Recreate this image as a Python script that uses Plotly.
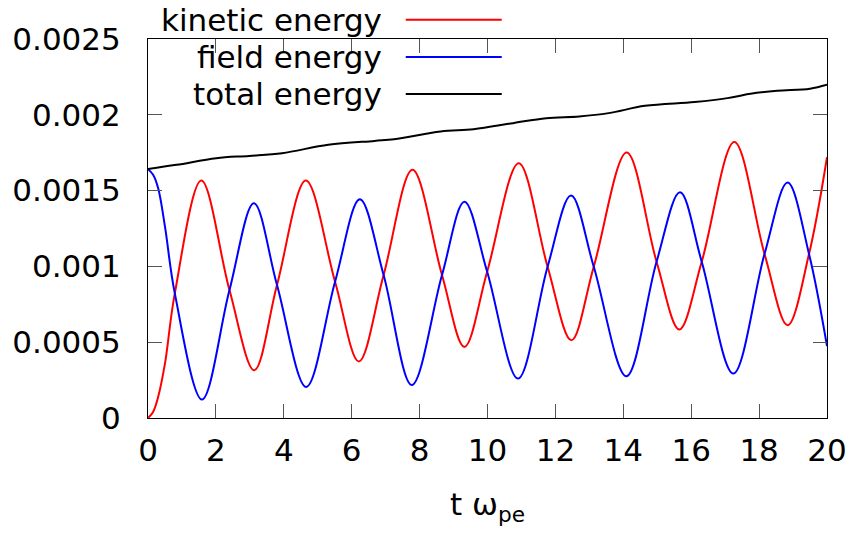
import plotly.graph_objects as go

# ---- data ----
t_kin = [0, 0.15, 0.3, 0.5, 0.79, 1.57, 2.40, 3.13, 3.80, 4.65, 5.51, 6.21, 6.94, 7.79, 8.66, 9.32,
         9.99, 10.92, 11.77, 12.47, 13.13, 14.10, 14.98, 15.65, 16.31, 17.27, 18.16, 18.84,
         19.47, 20.0]
kinetic = [0, 0.00004, 0.00014, 0.00036, 0.000822, 0.001566, 0.000844, 0.000315, 0.000877, 0.001566,
           0.000899, 0.000373, 0.000943, 0.001637, 0.000943, 0.000469, 0.000965, 0.001681,
           0.000998, 0.000513, 0.000998, 0.001751, 0.001031, 0.000584, 0.001031, 0.001821,
           0.001082, 0.000612, 0.001082, 0.00172]

t_fld = [0, 0.15, 0.3, 0.5, 0.79, 1.59, 2.40, 3.12, 3.80, 4.66, 5.51, 6.24, 6.94, 7.77, 8.66, 9.32,
         9.99, 10.90, 11.77, 12.46, 13.13, 14.09, 14.98, 15.67, 16.31, 17.24, 18.16, 18.84,
         19.47, 20.0]
field = [0.001641, 0.001605, 0.001515, 0.001262, 0.000822, 0.000122, 0.000844, 0.001416, 0.000877,
         0.000205, 0.000899, 0.001443, 0.000943, 0.000218, 0.000943, 0.001427, 0.000965,
         0.00026, 0.000998, 0.001467, 0.000998, 0.000275, 0.001031, 0.001489, 0.001031,
         0.000293, 0.001082, 0.001553, 0.001082, 0.000474]

t_tot = [0, 0.84, 2.01, 2.98, 3.95, 5.31, 6.67, 7.25, 8.62, 9.59, 10.75, 11.73, 12.70, 13.57,
         14.64, 16.10, 17.07, 17.75, 18.53, 19.50, 20.0]
total = [0.001643, 0.001670, 0.001714, 0.001729, 0.001747, 0.001802, 0.001828, 0.001839,
         0.001890, 0.001905, 0.001945, 0.001978, 0.001989, 0.002011, 0.002059, 0.002084,
         0.002110, 0.002139, 0.002158, 0.002172, 0.002198]

series_names = ["kinetic energy", "field energy", "total energy"]
series_colors = ["#ff0000", "#0000ff", "#000000"]

x_ticks = [0, 2, 4, 6, 8, 10, 12, 14, 16, 18, 20]
y_ticks = [0, 0.0005, 0.001, 0.0015, 0.002, 0.0025]
y_ticktext = ["0", "0.0005", "0.001", "0.0015", "0.002", "0.0025"]

FONT = "DejaVu Sans"
FS = 31

fig = go.Figure()
for (tx, ty), name, col in zip([(t_kin, kinetic), (t_fld, field), (t_tot, total)],
                               series_names, series_colors):
    fig.add_trace(go.Scatter(x=tx, y=ty, mode="lines", name=name,
                             line=dict(color=col, width=2, shape="spline", smoothing=1.0),
                             showlegend=False))

# gnuplot-style key: right-aligned text, sample line on the right
key_y = [1.051, 0.9524, 0.8546]
for name, col, yy in zip(series_names, series_colors, key_y):
    fig.add_annotation(x=0.3476, y=yy, xref="paper", yref="paper", text=name,
                       showarrow=False, xanchor="right", yanchor="middle",
                       font=dict(family=FONT, size=FS, color="black"))
    fig.add_shape(type="line", xref="paper", yref="paper", x0=0.3796, x1=0.5210,
                  y0=yy, y1=yy, line=dict(color=col, width=2))

axis_common = dict(showgrid=False, zeroline=False, showline=True, linecolor="black",
                   linewidth=1, mirror="ticks", ticks="inside", ticklen=14,
                   tickcolor="#555555", tickwidth=1,
                   tickfont=dict(family=FONT, size=FS, color="black"))

fig.update_xaxes(range=[0, 20], tickvals=x_ticks, ticklabelstandoff=5,
                 title=dict(text="t ω<sub>pe</sub>", standoff=26,
                            font=dict(family=FONT, size=FS, color="black")),
                 **axis_common)
fig.update_yaxes(range=[0, 0.0025], tickvals=y_ticks, ticktext=y_ticktext,
                 ticklabelstandoff=20, **axis_common)

fig.update_layout(width=859, height=533, margin=dict(l=145, r=28, t=39, b=115),
                  plot_bgcolor="white", paper_bgcolor="white",
                  font=dict(family=FONT, size=FS, color="black"))

fig.write_html("out.html")
